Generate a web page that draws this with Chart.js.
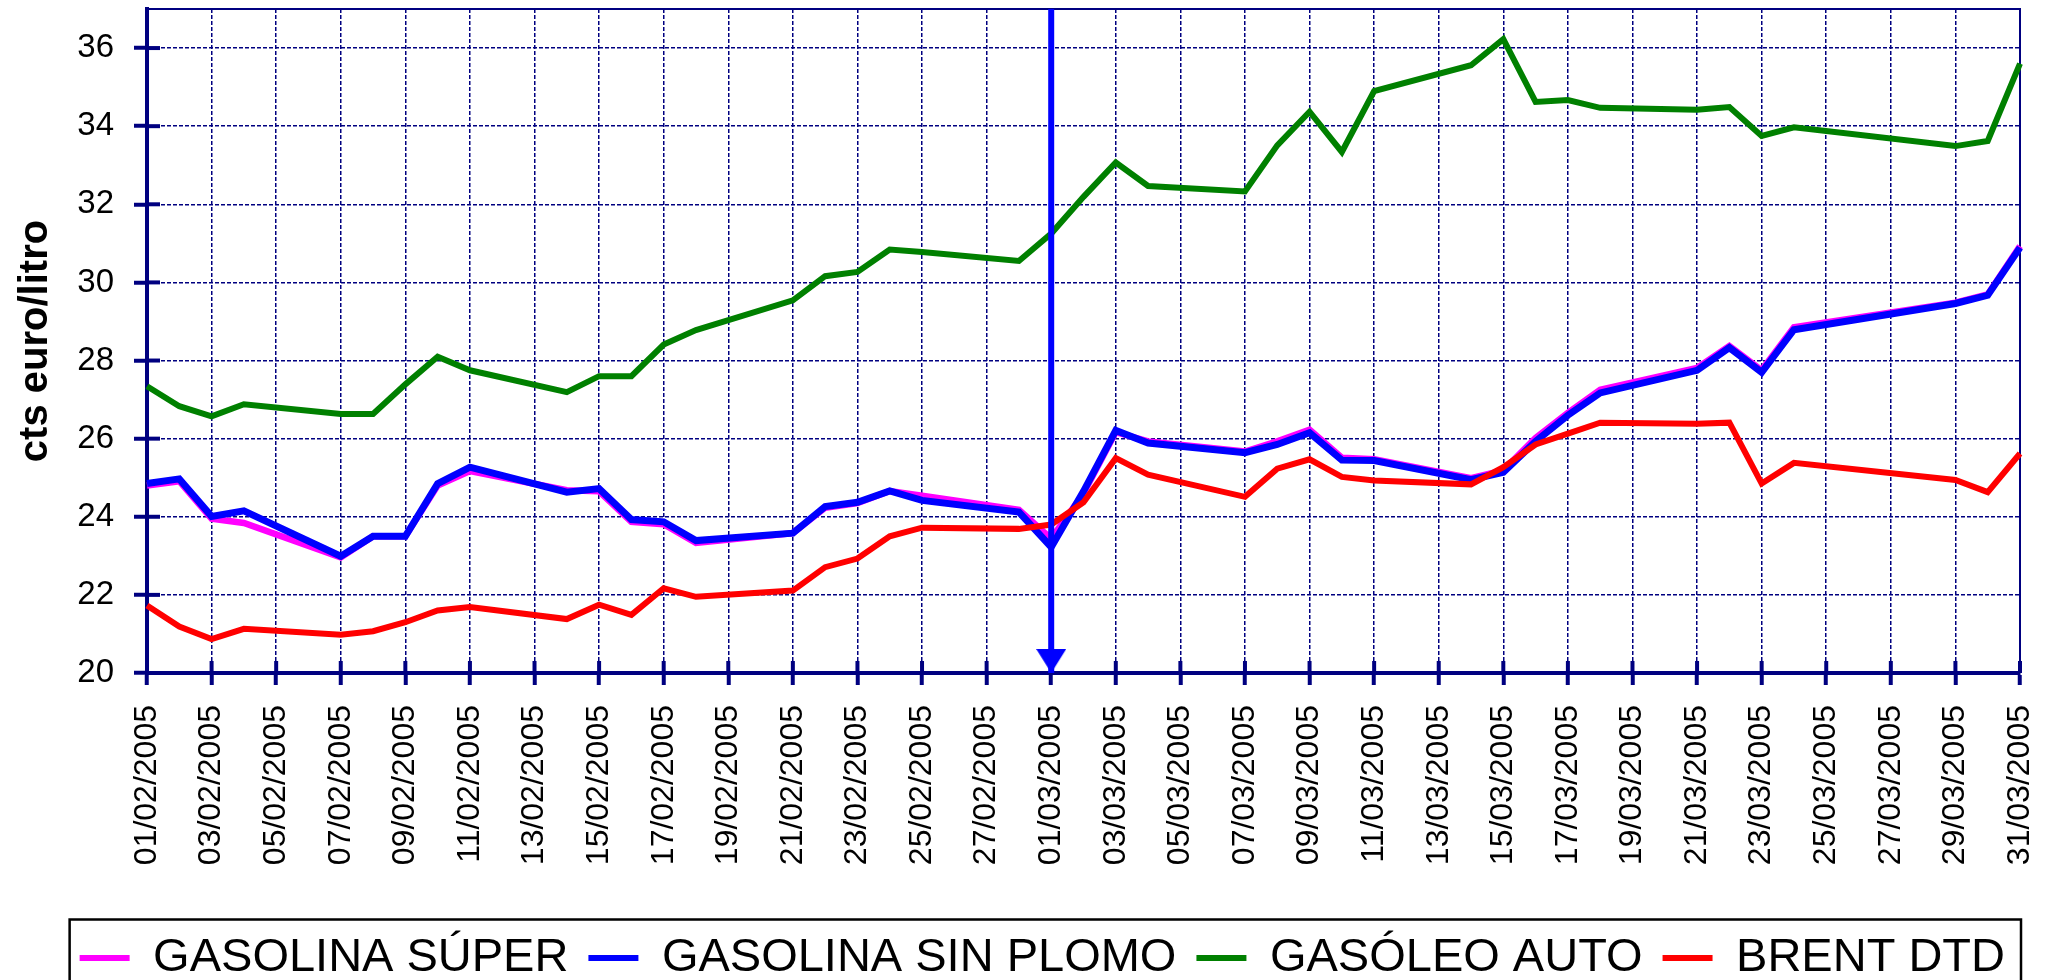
<!DOCTYPE html>
<html>
<head>
<meta charset="utf-8">
<script src="https://cdn.jsdelivr.net/npm/chart.js@4.4.1/dist/chart.umd.min.js"></script>
<style>html,body{margin:0;padding:0;background:#fff;overflow:hidden}canvas{display:block}</style>
</head>
<body>
<canvas id="c" width="2051" height="980"></canvas>
<script>
const DATES = [
  '01/02/2005','02/02/2005','03/02/2005','04/02/2005','05/02/2005','06/02/2005','07/02/2005','08/02/2005','09/02/2005','10/02/2005',
  '11/02/2005','12/02/2005','13/02/2005','14/02/2005','15/02/2005','16/02/2005','17/02/2005','18/02/2005','19/02/2005','20/02/2005',
  '21/02/2005','22/02/2005','23/02/2005','24/02/2005','25/02/2005','26/02/2005','27/02/2005','28/02/2005',
  '01/03/2005','02/03/2005','03/03/2005','04/03/2005','05/03/2005','06/03/2005','07/03/2005','08/03/2005','09/03/2005','10/03/2005',
  '11/03/2005','12/03/2005','13/03/2005','14/03/2005','15/03/2005','16/03/2005','17/03/2005','18/03/2005','19/03/2005','20/03/2005',
  '21/03/2005','22/03/2005','23/03/2005','24/03/2005','25/03/2005','26/03/2005','27/03/2005','28/03/2005','29/03/2005','30/03/2005','31/03/2005'
];

const GASOLINA_SUPER = [
  24.80, 24.91, 23.95, 23.84, null, null, 22.96, 23.50, 23.50, 24.80,
  25.17, null, null, 24.68, 24.65, 23.87, 23.81, 23.33, null, null,
  23.58, 24.23, 24.35, 24.66, 24.54, null, null, 24.18,
  23.44, 24.60, 26.17, 25.93, null, null, 25.67, 25.93, 26.23, 25.51,
  25.47, null, null, 24.99, 25.19, 26.02, 26.66, 27.25, null, null,
  27.81, 28.37, 27.75, 28.85, null, null, null, null, 29.48, 29.69, 30.93
];

const GASOLINA_SIN_PLOMO = [
  24.85, 24.97, 24.01, 24.15, null, null, 22.99, 23.50, 23.50, 24.85,
  25.27, null, null, 24.63, 24.72, 23.93, 23.87, 23.39, null, null,
  23.58, 24.26, 24.37, 24.66, 24.42, null, null, 24.12,
  23.22, 24.65, 26.21, 25.89, null, null, 25.64, 25.85, 26.15, 25.45,
  25.44, null, null, 24.95, 25.14, 25.93, 26.60, 27.17, null, null,
  27.75, 28.33, 27.70, 28.79, null, null, null, null, 29.46, 29.67, 30.89
];

const GASOLEO_AUTO = [
  27.34, 26.83, 26.57, 26.88, null, null, 26.63, 26.63, 27.39, 28.10,
  27.75, null, null, 27.19, 27.60, 27.60, 28.41, 28.78, null, null,
  29.54, 30.16, 30.27, 30.84, 30.78, null, null, 30.55,
  31.25, 32.19, 33.07, 32.47, null, null, 32.33, 33.51, 34.37, 33.34,
  34.90, null, null, 35.56, 36.23, 34.62, 34.67, 34.47, null, null,
  34.42, 34.49, 33.75, 33.97, null, null, null, null, 33.49, 33.62, 35.60
];

const BRENT_DTD = [
  21.73, 21.19, 20.87, 21.13, null, null, 20.98, 21.07, 21.30, 21.60,
  21.69, null, null, 21.38, 21.75, 21.49, 22.17, 21.95, null, null,
  22.11, 22.71, 22.93, 23.50, 23.72, null, null, 23.69,
  23.80, 24.37, 25.50, 25.08, null, null, 24.51, 25.23, 25.47, 25.02,
  24.93, null, null, 24.83, 25.27, 25.85, 26.13, 26.41, null, null,
  26.38, 26.41, 24.85, 25.38, null, null, null, null, 24.94, 24.63, 25.62
];

const SERIES_NAMES = ['GASOLINA SÚPER', 'GASOLINA SIN PLOMO', 'GASÓLEO AUTO', 'BRENT DTD'];
const Y_TITLE = 'cts euro/litro';
const Y_MIN = 20, Y_MAX = 37, Y_STEP = 2;
const ARROW_DATE = '01/03/2005';

const FONT = "'Liberation Sans', Arial, Helvetica, sans-serif";
const NAVY = '#000080';
const CLEAR = 'rgba(0,0,0,0)';

// arrowhead image: tip at the centre of the canvas
const head = document.createElement('canvas');
head.width = 30; head.height = 48;
(function(){
  const hc = head.getContext('2d');
  hc.fillStyle = '#0000FF';
  hc.beginPath(); hc.moveTo(0, 0); hc.lineTo(30, 0); hc.lineTo(15, 24); hc.closePath(); hc.fill();
})();

const framePlugin = {
  id: 'frame',
  beforeDatasetsDraw(chart) {
    const {ctx, chartArea: a, scales: {x, y}} = chart;
    ctx.save();
    ctx.strokeStyle = NAVY;
    ctx.lineWidth = 2;
    ctx.beginPath();
    ctx.moveTo(a.left, a.top); ctx.lineTo(a.right, a.top); ctx.lineTo(a.right, a.bottom);
    ctx.stroke();
    ctx.lineWidth = 4;
    y.ticks.forEach((t, i) => {
      const py = y.getPixelForTick(i);
      ctx.beginPath(); ctx.moveTo(a.left, py); ctx.lineTo(a.left + 13, py); ctx.stroke();
    });
    x.ticks.forEach((t, i) => {
      if (i % 2) return;
      const px = x.getPixelForTick(i);
      ctx.beginPath(); ctx.moveTo(px, a.bottom); ctx.lineTo(px, a.bottom - 12); ctx.stroke();
    });
    ctx.restore();
  },
  afterDraw(chart) {
    const hb = chart.legend && chart.legend.legendHitBoxes;
    if (!hb || !hb.length) return;
    const first = hb[0], last = hb[hb.length - 1];
    const ctx = chart.ctx;
    ctx.save();
    ctx.strokeStyle = '#000';
    ctx.lineWidth = 2.5;
    ctx.strokeRect(first.left - 10, first.top - 15, (last.left + last.width) - first.left + 26, 200);
    ctx.restore();
  }
};

const line = (label, data, color, width) => ({
  label, data,
  borderColor: color, backgroundColor: color,
  borderWidth: width, pointRadius: 0, tension: 0, spanGaps: true
});

const datasets = [
  Object.assign(line(SERIES_NAMES[0], GASOLINA_SUPER, '#FF00FF', 6.5), {order: 4}),
  Object.assign(line(SERIES_NAMES[1], GASOLINA_SIN_PLOMO, '#0000FF', 7), {order: 3}),
  Object.assign(line(SERIES_NAMES[2], GASOLEO_AUTO, '#008000', 6), {order: 2}),
  Object.assign(line(SERIES_NAMES[3], BRENT_DTD, '#FF0000', 6), {order: 1}),
  {
    label: 'arrow',
    data: [{x: ARROW_DATE, y: Y_MAX}, {x: ARROW_DATE, y: Y_MIN}],
    borderColor: '#0000FF', backgroundColor: '#0000FF', borderWidth: 6,
    pointStyle: [false, head], pointRadius: [0, 10], order: 0, clip: false
  }
];

const gridColor = (ctx) => (ctx.index % 2 ? CLEAR : NAVY);

new Chart(document.getElementById('c'), {
  type: 'line',
  data: {labels: DATES, datasets},
  plugins: [framePlugin],
  options: {
    responsive: false,
    animation: false,
    devicePixelRatio: 1,
    layout: {autoPadding: false, padding: {left: 0, right: 26, top: 9, bottom: -11.5}},
    plugins: {
      tooltip: {enabled: false},
      legend: {
        position: 'bottom',
        align: 'end',
        labels: {
          font: {family: FONT, size: 47},
          color: '#000',
          boxWidth: 50,
          boxHeight: 6,
          padding: 20,
          filter: (it) => it.datasetIndex < 4,
          sort: (a, b) => a.datasetIndex - b.datasetIndex,
          generateLabels(chart) {
            const items = Chart.defaults.plugins.legend.labels.generateLabels(chart);
            items.forEach(i => { i.lineWidth = 0; i.fillStyle = i.strokeStyle; });
            return items;
          }
        }
      }
    },
    scales: {
      x: {
        grid: {color: gridColor, lineWidth: 1.5, tickColor: gridColor, tickWidth: 4, tickLength: 12},
        border: {color: NAVY, width: 4, dash: [4, 2]},
        ticks: {
          autoSkip: false, maxRotation: 90, minRotation: 90, padding: 20,
          font: {family: FONT, size: 32}, color: '#000',
          callback(v, i) { return i % 2 === 0 ? this.getLabelForValue(v) : ''; }
        },
        afterFit(s) { s.height = 241.5; s.paddingLeft = 0; s.paddingRight = 31; }
      },
      y: {
        min: Y_MIN, max: Y_MAX,
        grid: {color: NAVY, lineWidth: 1.5, tickColor: NAVY, tickWidth: 4, tickLength: 13},
        border: {color: NAVY, width: 4, dash: [4, 2]},
        ticks: {stepSize: Y_STEP, includeBounds: false, padding: 20, font: {family: FONT, size: 33}, color: '#000'},
        title: {display: true, text: Y_TITLE, font: {family: FONT, size: 40, weight: 'bold'}, color: '#000', padding: {top: 12, bottom: 0}},
        afterFit(s) { s.width = 147; s.paddingTop = 0; s.paddingBottom = 0; }
      }
    }
  }
});
</script>
</body>
</html>
